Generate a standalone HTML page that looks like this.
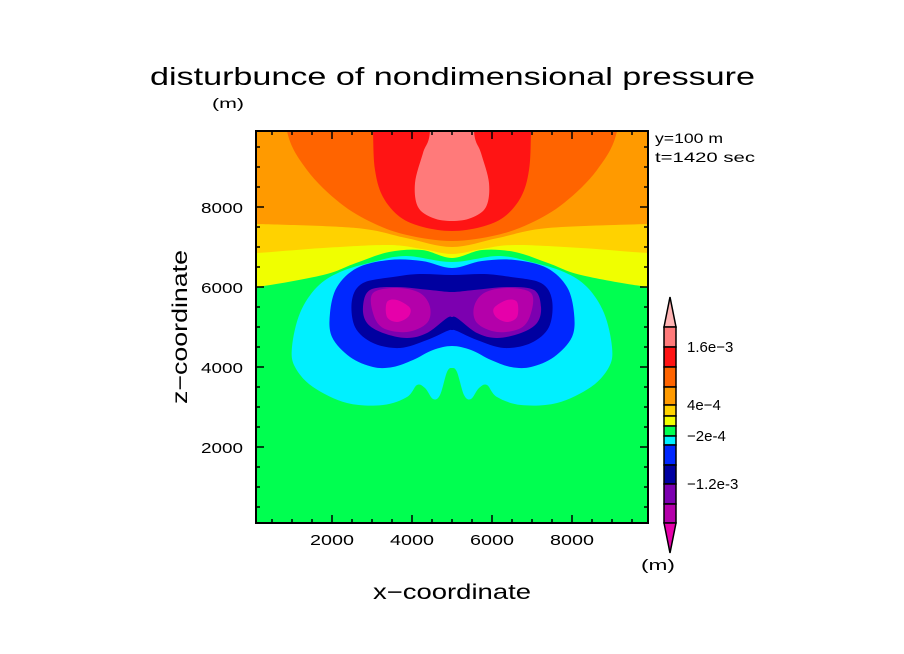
<!DOCTYPE html>
<html><head><meta charset="utf-8"><style>
html,body{margin:0;padding:0;background:#fff;}
svg{display:block;}
text{font-family:"Liberation Sans",sans-serif;fill:#000;}
</style></head><body>
<svg id="chart" width="904" height="654" viewBox="0 0 904 654" xmlns="http://www.w3.org/2000/svg">
<defs><clipPath id="plotclip"><rect x="256" y="131" width="392" height="392"/></clipPath></defs>
<rect width="904" height="654" fill="#fff"/>
<g id="plot" clip-path="url(#plotclip)"></g>
<g id="axes"></g>
<g id="cbar"></g>
<text x="150" y="85" font-size="25" textLength="605" lengthAdjust="spacingAndGlyphs">disturbunce of nondimensional pressure</text>
<text x="212" y="108" font-size="14" textLength="32" lengthAdjust="spacingAndGlyphs">(m)</text>
<text x="655" y="143" font-size="14" textLength="68" lengthAdjust="spacingAndGlyphs">y=100 m</text>
<text x="655" y="162" font-size="14" textLength="100" lengthAdjust="spacingAndGlyphs">t=1420 sec</text>
<text x="373" y="599" font-size="21" textLength="158" lengthAdjust="spacingAndGlyphs">x−coordinate</text>
<text x="0" y="0" font-size="21" textLength="154" lengthAdjust="spacingAndGlyphs" transform="translate(187,404) rotate(-90)">z−coordinate</text>
<text x="641" y="570" font-size="15" textLength="34" lengthAdjust="spacingAndGlyphs">(m)</text>
</svg>
<script>
// ---- data (meters) ----
const xDomain = [100, 9900];
const zDomain = [100, 9900];
const xTicks = [2000, 4000, 6000, 8000];
const zTicks = [2000, 4000, 6000, 8000];
const minorStep = 500;
const mirrorX = 5000;
// positive layers: left-half lower boundary (region above curve, up to top)
const yellowLower = [[100,6000],[1775,6300],[2600,6600],[3425,6875],[4250,6925],[5000,6725]];
const goldLower = [[100,6850],[1775,6975],[3425,7050],[4250,6950],[5000,6825]];
const orangeLower = [[100,7575],[2600,7475],[3850,7225],[5000,7000]];
const orangeRedDome = [[875,9900],[1375,8925],[2200,8100],[3025,7600],[3875,7300],[5000,7150]];
const redDome = [[3025,9900],[3075,8925],[3275,8250],[3700,7750],[4275,7500],[5000,7400]];
const pinkDome = [[4450,9900],[4275,9350],[4075,8600],[4150,8000],[4525,7725],[5000,7650]];
// negative layers: left half outlines (top-center -> around -> bottom-center)
const cyanHalf = [[5000,6625],[3850,6775],[3025,6625],[2200,6375],[1625,6000],[1200,5350],[1000,4500],[1075,4000],[1525,3500],[2375,3100],[3275,3050],[3875,3250],[4125,3550],[4325,3475],[4525,3200],[4700,3300],[4875,3875],[5000,3975]];
const blueHalf = [[5000,6475],[4250,6650],[3425,6675],[2625,6475],[2125,6000],[1950,5350],[2000,4750],[2450,4250],[3025,4000],[3525,4000],[4025,4175],[4525,4425],[5000,4525]];
const navyHalf = [[5000,6300],[4200,6325],[3525,6250],[2775,6100],[2500,5675],[2575,5000],[3025,4600],[3700,4475],[4375,4675],[4875,4900],[5000,4925]];
const purpleHalf = [[5000,5875],[4450,5925],[3625,6000],[2950,5925],[2775,5500],[2875,5100],[3275,4850],[3875,4725],[4375,4850],[4875,5225],[5000,5250]];
const magentaBlob = [[3625,5975],[3025,5850],[3025,5350],[3275,4975],[3875,4875],[4375,5100],[4450,5500],[4200,5850]];
const deepPinkBlob = [[3375,5625],[3625,5675],[3950,5475],[3900,5250],[3625,5125],[3375,5250]];
// colorbar
const cbLevels = ["2e-3","1.6e-3","1.2e-3","8e-4","4e-4","2e-4","0","-2e-4","-4e-4","-8e-4","-1.2e-3","-1.6e-3","-2e-3"];
const cbLevelValues = [2e-3,1.6e-3,1.2e-3,8e-4,4e-4,2e-4,0,-2e-4,-4e-4,-8e-4,-1.2e-3,-1.6e-3,-2e-3];
const cbColors = ["#ff7a7a","#ff1414","#ff6400","#ff9a00","#ffd200","#f0ff00","#00ff50","#00f0ff","#0028ff","#0000a0","#7c00b0","#b400aa"];
const cbLabeled = ["1.6e-3","4e-4","-2e-4","-1.2e-3"];
const colTop = "#ffb4b4", colBottom = "#e600aa";
const C = {yellow:"#f0ff00",gold:"#ffd200",orange:"#ff9a00",orangeRed:"#ff6400",red:"#ff1414",pink:"#ff7a7a",green:"#00ff50",cyan:"#00f0ff",blue:"#0028ff",navy:"#0000a0",purple:"#7c00b0",magenta:"#b400aa",deepPink:"#e600aa"};

// ---- axes ----
const PX0=256, PX1=648, PY0=131, PY1=523;
const sx = x => PX0 + (x - xDomain[0]) / (xDomain[1]-xDomain[0]) * (PX1-PX0);
const sz = z => PY1 - (z - zDomain[0]) / (zDomain[1]-zDomain[0]) * (PY1-PY0);
const NS="http://www.w3.org/2000/svg";
function mk(tag, attrs, parent){const e=document.createElementNS(NS,tag);for(const k in attrs)e.setAttribute(k,attrs[k]);parent.appendChild(e);return e;}
const plot=document.getElementById('plot');
const axes=document.getElementById('axes');
const cbar=document.getElementById('cbar');
const mirror = pts => pts.map(p=>[2*mirrorX-p[0],p[1]]);
// smooth closed Catmull-Rom path in pixel space
function smoothPath(pts){
  const P = pts.map(p=>[sx(p[0]),sz(p[1])]);
  const n=P.length; let d='M'+P[0][0].toFixed(1)+','+P[0][1].toFixed(1);
  for(let i=0;i<n;i++){
    const p0=P[(i-1+n)%n],p1=P[i],p2=P[(i+1)%n],p3=P[(i+2)%n];
    const c1=[p1[0]+(p2[0]-p0[0])/6,p1[1]+(p2[1]-p0[1])/6];
    const c2=[p2[0]-(p3[0]-p1[0])/6,p2[1]-(p3[1]-p1[1])/6];
    d+=`C${c1[0].toFixed(1)},${c1[1].toFixed(1)} ${c2[0].toFixed(1)},${c2[1].toFixed(1)} ${p2[0].toFixed(1)},${p2[1].toFixed(1)}`;
  }
  return d+'Z';
}

let e = mk('rect',{x:PX0,y:PY0,width:PX1-PX0,height:PY1-PY0,fill:C.green},plot);



function topLayer(lower,color,name){
  const full = lower.concat(mirror(lower).reverse().slice(1));
  const ext = [[xDomain[0]-800, full[0][1]]].concat(full).concat([[xDomain[1]+800, full[full.length-1][1]],[xDomain[1]+800,zDomain[1]+2000],[xDomain[0]-800,zDomain[1]+2000]]);
  const el = mk('path',{d:smoothPath(ext),fill:color},plot);
  
  
}
function domeLayer(d,color,name){
  const full = d.concat(mirror(d).reverse().slice(1));
  const f0=full[0], fl=full[full.length-1];
  const ext = [[f0[0]-20, f0[1]+1500]].concat(full).concat([[fl[0]+20, fl[1]+1500]]);
  const el = mk('path',{d:smoothPath(ext),fill:color},plot);
  
  
}
function halfLayer(h,color,name){
  const full = h.concat(mirror(h).reverse().slice(1,-1));
  const el = mk('path',{d:smoothPath(full),fill:color},plot);
  
  
}
function blobPair(b,color,name){
  [b, mirror(b).reverse()].forEach((pts,i)=>{
    const el = mk('path',{d:smoothPath(pts),fill:color},plot);
    
    
  });
}
topLayer(yellowLower,C.yellow,'region-yellow');
topLayer(goldLower,C.gold,'region-gold');
topLayer(orangeLower,C.orange,'region-orange');
domeLayer(orangeRedDome,C.orangeRed,'region-orange-red');
domeLayer(redDome,C.red,'region-red');
domeLayer(pinkDome,C.pink,'region-pink');
halfLayer(cyanHalf,C.cyan,'region-cyan');
halfLayer(blueHalf,C.blue,'region-blue');
halfLayer(navyHalf,C.navy,'region-navy');
halfLayer(purpleHalf,C.purple,'region-purple');
blobPair(magentaBlob,C.magenta,'region-magenta');
blobPair(deepPinkBlob,C.deepPink,'region-deep-pink');

// frame and ticks
e = mk('rect',{x:PX0,y:PY0,width:PX1-PX0,height:PY1-PY0,fill:'none',stroke:'#000','stroke-width':2},axes);


let tk='';
for(let v=Math.ceil(xDomain[0]/minorStep)*minorStep; v<=xDomain[1]; v+=minorStep){
  const L = (v%2000===0)?8:4, X=sx(v);
  tk+=`M${X},${PY1}v${-L}M${X},${PY0}v${L}`;
}
for(let v=Math.ceil(zDomain[0]/minorStep)*minorStep; v<=zDomain[1]; v+=minorStep){
  const L = (v%2000===0)?8:4, Y=sz(v);
  tk+=`M${PX0},${Y}h${L}M${PX1},${Y}h${-L}`;
}
e = mk('path',{d:tk,stroke:'#000','stroke-width':1.5,fill:'none'},axes);


xTicks.forEach(v=>{
  const t=mk('text',{x:sx(v),y:545,'font-size':15,'text-anchor':'middle',textLength:44,lengthAdjust:'spacingAndGlyphs'},axes);
  t.textContent=String(v);
  
  
});
zTicks.forEach(v=>{
  const t=mk('text',{x:243,y:sz(v)+6,'font-size':15,'text-anchor':'end',textLength:42,lengthAdjust:'spacingAndGlyphs'},axes);
  t.textContent=String(v);
  
  
});

// colorbar
const CBX0=664, CBX1=676;
const cbY = {"2e-3":327,"1.6e-3":347,"1.2e-3":367,"8e-4":387,"4e-4":405,"2e-4":416,"0":426,"-2e-4":436,"-4e-4":445,"-8e-4":465,"-1.2e-3":484,"-1.6e-3":504,"-2e-3":523};
const cbScale = v => { for(let i=0;i<cbLevelValues.length-1;i++){const a=cbLevelValues[i],b=cbLevelValues[i+1]; if(v<=a&&v>=b){const ya=cbY[cbLevels[i]],yb=cbY[cbLevels[i+1]];return ya+(a-v)/(a-b)*(yb-ya);}} return null; };
e = mk('path',{d:`M${CBX0},${cbScale(cbLevelValues[0])} L${(CBX0+CBX1)/2},297 L${CBX1},${cbScale(cbLevelValues[0])} Z`,fill:colTop,stroke:'#000','stroke-width':1.5},cbar);


for(let i=0;i<cbColors.length;i++){
  const y0=cbScale(cbLevelValues[i]), y1=cbScale(cbLevelValues[i+1]);
  const r=mk('rect',{x:CBX0,y:y0,width:CBX1-CBX0,height:y1-y0,fill:cbColors[i],stroke:'#000','stroke-width':1.5},cbar);
  
  
}
const last=cbScale(cbLevelValues[cbLevelValues.length-1]);
e = mk('path',{d:`M${CBX0},${last} L${(CBX0+CBX1)/2},553 L${CBX1},${last} Z`,fill:colBottom,stroke:'#000','stroke-width':1.5},cbar);


cbLabeled.forEach(lbl=>{
  const v=cbLevelValues[cbLevels.indexOf(lbl)];
  const t=mk('text',{x:687,y:cbScale(v)+5,'font-size':15},cbar);
  t.textContent=lbl.replace('-','−');
  
  
});
</script>
</body></html>
